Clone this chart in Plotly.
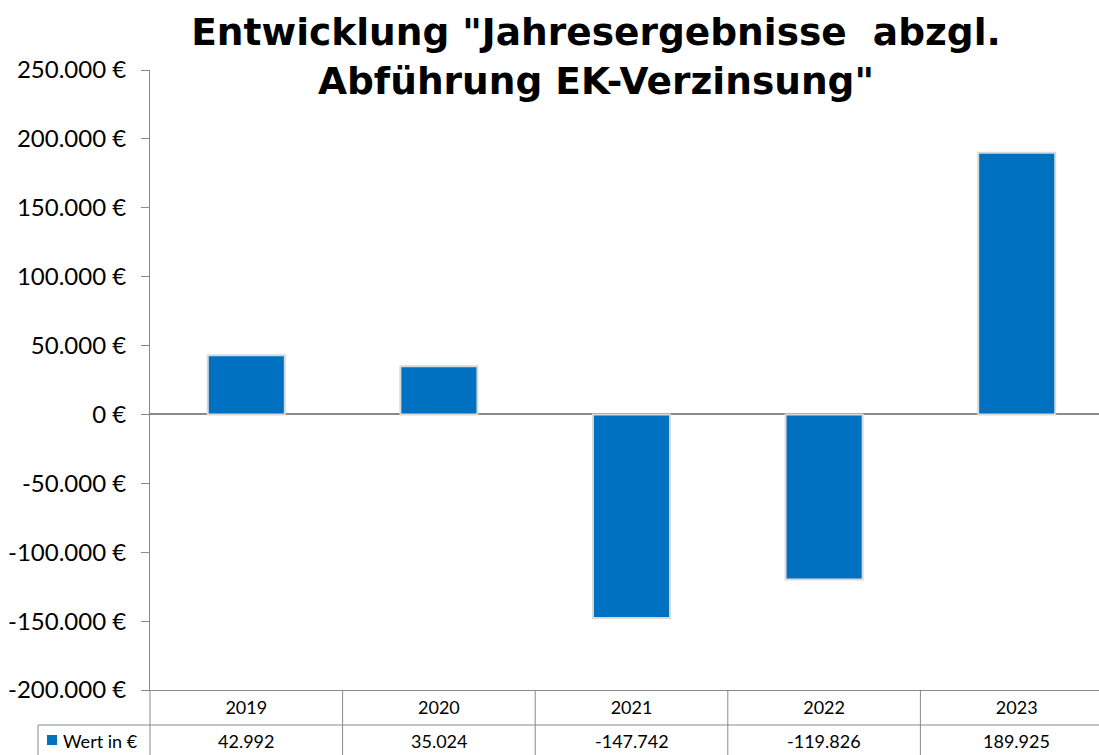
import plotly.graph_objects as go

# ---- data ----
years = ["2019", "2020", "2021", "2022", "2023"]
values = [42992, 35024, -147742, -119826, 189925]
value_labels = ["42.992", "35.024", "-147.742", "-119.826", "189.925"]
series_name = "Wert in €"
y_tickvals = [-200000, -150000, -100000, -50000, 0, 50000, 100000, 150000, 200000, 250000]
y_ticktext = ["-200.000 €", "-150.000 €", "-100.000 €", "-50.000 €", "0 €",
              "50.000 €", "100.000 €", "150.000 €", "200.000 €", "250.000 €"]
title_text = 'Entwicklung "Jahresergebnisse &nbsp;abzgl.<br>Abführung EK-Verzinsung"'

# ---- layout geometry (pixels) ----
W, H = 1099, 755
L, T = 150, 70
PLOT_BOTTOM = 690
ROW1 = 725          # table row separator
CAT_W = 192.6
x_range = [-0.5, -0.5 + (W - L) / CAT_W]

BAR_COLOR = "#0070C0"
LINE_COLOR = "#898989"
FONT = "Lato, 'Open Sans', sans-serif"

def px_x(px):
    return (px - L) / (W - L)

def px_y(py):
    return (PLOT_BOTTOM - py) / (PLOT_BOTTOM - T)

def cat_to_paper(c):
    return (c - x_range[0]) / (x_range[1] - x_range[0])

fig = go.Figure()
fig.add_trace(go.Bar(
    x=years, y=values, name=series_name, width=0.4,
    marker=dict(color=BAR_COLOR, line=dict(color="#D9D9D9", width=2)),
    showlegend=False, hoverinfo="x+y",
))

shapes = []
# table borders
shapes.append(dict(type="line", xref="paper", yref="paper",
                   x0=px_x(38), x1=1.0, y0=px_y(ROW1), y1=px_y(ROW1),
                   line=dict(color=LINE_COLOR, width=1)))
shapes.append(dict(type="line", xref="paper", yref="paper",
                   x0=px_x(38), x1=px_x(38), y0=px_y(ROW1), y1=px_y(H + 5),
                   line=dict(color=LINE_COLOR, width=1)))
shapes.append(dict(type="line", xref="paper", yref="paper",
                   x0=0, x1=0, y0=0, y1=px_y(H + 5),
                   line=dict(color=LINE_COLOR, width=1)))
for i in range(len(years) - 1):
    xp = cat_to_paper(i + 0.5)
    shapes.append(dict(type="line", xref="paper", yref="paper",
                       x0=xp, x1=xp, y0=0, y1=px_y(H + 5),
                       line=dict(color=LINE_COLOR, width=1)))
# legend key square
shapes.append(dict(type="rect", xref="paper", yref="paper",
                   x0=px_x(47), x1=px_x(57), y0=px_y(745), y1=px_y(735),
                   fillcolor=BAR_COLOR, line=dict(width=0)))

annotations = []
for i, lab in enumerate(value_labels):
    annotations.append(dict(x=cat_to_paper(i), xref="paper", y=px_y(741), yref="paper",
                            text=lab, showarrow=False, xanchor="center",
                            yanchor="middle",
                            font=dict(family=FONT, size=18, color="#000000")))
annotations.append(dict(x=px_x(61), xref="paper", y=px_y(741), yref="paper",
                        text=series_name, showarrow=False, xanchor="left",
                        yanchor="middle",
                        font=dict(family=FONT, size=18, color="#000000")))

fig.update_layout(
    width=W, height=H,
    margin=dict(l=L, r=0, t=T, b=H - PLOT_BOTTOM, pad=0),
    paper_bgcolor="white", plot_bgcolor="white",
    title=dict(text=title_text, x=596 / W, xanchor="center",
               y=1 - 45 / H, yanchor="middle", yref="container",
               font=dict(family="DejaVu Sans", size=37.5, color="#000000",
                         weight="bold")),
    xaxis=dict(type="category", range=x_range, showgrid=False,
               showline=True, linecolor=LINE_COLOR, linewidth=1,
               ticks="", tickfont=dict(family=FONT, size=18, color="#000000"),
               ticklabelstandoff=1, fixedrange=True),
    yaxis=dict(range=[-200000, 250000], tickvals=y_tickvals, ticktext=y_ticktext,
               showgrid=False, showline=True, linecolor=LINE_COLOR, linewidth=1,
               ticks="outside", ticklen=8, tickcolor=LINE_COLOR,
               zeroline=True, zerolinecolor=LINE_COLOR, zerolinewidth=1.5,
               tickfont=dict(family=FONT, size=24, color="#000000"),
               ticklabelstandoff=10, fixedrange=True),
    shapes=shapes, annotations=annotations,
    bargap=0.6, showlegend=False,
)

fig.write_html("out.html", config={"displayModeBar": False},
               post_script="document.body.style.margin='0';document.body.style.overflow='hidden';")
